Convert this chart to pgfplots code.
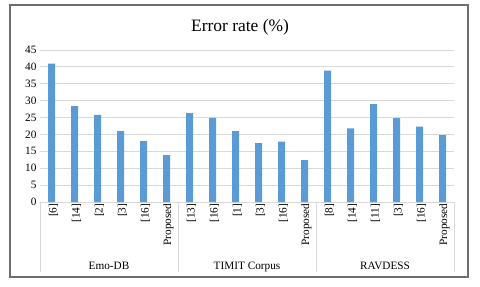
\documentclass[border=0pt]{standalone}
\usepackage{fontspec}
\setmainfont{Liberation Serif}
\usepackage{pgfplots}
\pgfplotsset{compat=1.18}
\definecolor{barblue}{HTML}{5B9BD5}
\definecolor{gridgray}{HTML}{D9D9D9}
\definecolor{framegray}{HTML}{6E6E6E}
\begin{document}
\begin{tikzpicture}
\path[use as bounding box] (0bp,0bp) rectangle (480bp,287bp);
\draw[framegray, line width=1.2bp] (10bp,10bp) rectangle (468bp,282bp);
\node[anchor=base, font=\fontsize{17.5}{20}\selectfont, inner sep=0pt] at (240bp,255.5bp) {Error rate (\%)};
\begin{axis}[
  at={(40bp,85bp)}, anchor=south west,
  scale only axis, width=414bp, height=152bp,
  xmin=-0.5, xmax=17.5, ymin=0, ymax=45,
  ytick={0,5,...,45},
  xtick={0,...,17},
  xticklabels={{[6]},{[14]},{[2]},{[3]},{[16]},{Proposed},{[13]},{[16]},{[1]},{[3]},{[16]},{Proposed},{[8]},{[14]},{[11]},{[3]},{[16]},{Proposed}},
  xticklabel style={rotate=90, anchor=east, font=\fontsize{11.3}{13}\selectfont, inner sep=1.5bp, yshift=-2bp},
  yticklabel style={font=\fontsize{11.3}{13}\selectfont},
  /pgf/number format/assume math mode=true,
  major tick length=0pt,
  axis line style={draw=none},
  ymajorgrids, grid style={gridgray, line width=0.8bp},
  clip=false,
  ybar, bar width=7bp,
]
\addplot[fill=barblue, draw=none] coordinates {
 (0,41.0) (1,28.4) (2,25.8) (3,21.0) (4,18.0) (5,13.9)
 (6,26.3) (7,24.9) (8,21.0) (9,17.4) (10,17.9) (11,12.4)
 (12,38.9) (13,21.8) (14,29.0) (15,24.8) (16,22.3) (17,19.8)
};
\draw[gridgray, line width=0.8bp] (axis cs:-0.5,0) -- ([yshift=-70bp]axis cs:-0.5,0);
\draw[gridgray, line width=0.8bp] (axis cs:5.5,0) -- ([yshift=-70bp]axis cs:5.5,0);
\draw[gridgray, line width=0.8bp] (axis cs:11.5,0) -- ([yshift=-70bp]axis cs:11.5,0);
\draw[gridgray, line width=0.8bp] (axis cs:17.5,0) -- ([yshift=-70bp]axis cs:17.5,0);
\node[anchor=base, font=\fontsize{11.3}{13}\selectfont] at ([yshift=-67bp]axis cs:2.5,0) {Emo-DB};
\node[anchor=base, font=\fontsize{11.3}{13}\selectfont] at ([yshift=-67bp]axis cs:8.5,0) {TIMIT Corpus};
\node[anchor=base, font=\fontsize{11.3}{13}\selectfont] at ([yshift=-67bp]axis cs:14.5,0) {RAVDESS};
\end{axis}
\end{tikzpicture}
\end{document}
